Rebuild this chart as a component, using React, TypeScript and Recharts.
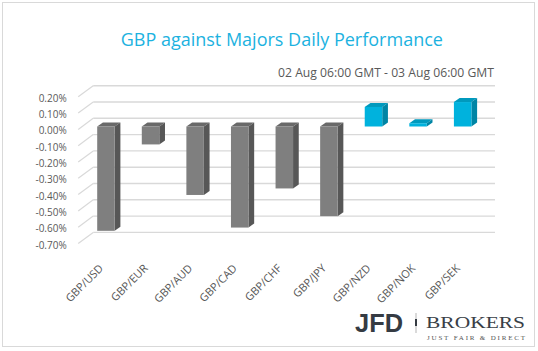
import React from 'react';
import { BarChart, Bar, XAxis, YAxis, CartesianGrid } from 'recharts';

const categories = ['GBP/USD', 'GBP/EUR', 'GBP/AUD', 'GBP/CAD', 'GBP/CHF', 'GBP/JPY', 'GBP/NZD', 'GBP/NOK', 'GBP/SEK'];
const changes = [-0.64, -0.11, -0.42, -0.62, -0.38, -0.55, 0.12, 0.02, 0.15];
const yTicks = [0.2, 0.1, 0, -0.1, -0.2, -0.3, -0.4, -0.5, -0.6, -0.7];
const titleText = 'GBP against Majors Daily Performance';
const subtitleText = '02 Aug 06:00 GMT - 03 Aug 06:00 GMT';

const data = categories.map((name, i) => ({ name, value: changes[i] }));

const FONT = '"Open Sans", sans-serif';
const DEPTH_X = 5.7;
const DEPTH_Y = 4;
const LIFT = 4.4;

const fmt = (v: number) => {
  const r = Math.round(v * 100) / 100;
  return (Math.abs(r) < 1e-9 ? 0 : r).toFixed(2) + '%';
};

const Bar3D = (props: any) => {
  const { x, y, width, height, value } = props;
  const top = Math.min(y, y + height) - LIFT;
  const h = Math.abs(height);
  const pos = value >= 0;
  const front = pos ? '#00b2dd' : '#7f7f7f';
  const side = pos ? '#0085a5' : '#575757';
  const topC = pos ? '#0099bd' : '#696969';
  return (
    <g>
      <polygon
        points={`${x},${top} ${x + DEPTH_X},${top - DEPTH_Y} ${x + width + DEPTH_X},${top - DEPTH_Y} ${x + width},${top}`}
        fill={topC}
      />
      <polygon
        points={`${x + width},${top} ${x + width + DEPTH_X},${top - DEPTH_Y} ${x + width + DEPTH_X},${top - DEPTH_Y + h} ${x + width},${top + h}`}
        fill={side}
      />
      <rect x={x} y={top} width={width} height={h} fill={front} />
    </g>
  );
};

const GridLine = (props: any) => {
  const { x1, x2, y1 } = props;
  const by = y1 - 12.6;
  return (
    <g key={props.key}>
      <line x1={x1 - 5} y1={y1 - 1.5} x2={x1 + 10} y2={by} stroke="#d9d9d9" strokeWidth={1.2} />
      <line x1={x1 + 10} y1={by} x2={x2 + 10.5} y2={by} stroke="#d9d9d9" strokeWidth={1.4} />
    </g>
  );
};

const YTick = (props: any) => {
  const { x, y, payload } = props;
  return (
    <text x={x - 16.5} y={y} dy={3.5} textAnchor="end" fontSize={10} fontFamily={FONT} fill="#595959">
      {fmt(payload.value)}
    </text>
  );
};

const XTick = (props: any) => {
  const { x, y, payload } = props;
  const tx = x - 1.5;
  const ty = y + 24;
  return (
    <text x={tx} y={ty} textAnchor="end" fontSize={11} fontFamily={FONT} fill="#595959" transform={`rotate(-45 ${tx} ${ty})`}>
      {payload.value}
    </text>
  );
};

export default function App() {
  return (
    <div style={{ position: 'absolute', left: 0, top: 0, width: 538, height: 351, background: '#fff' }}>
      <BarChart
        width={538}
        height={351}
        data={data}
        margin={{ top: 98.3, right: 53.5, bottom: 76, left: 23.2 }}
        barSize={17.5}
      >
        <CartesianGrid vertical={false} horizontal={(p: any) => <GridLine {...p} />} />
        <XAxis
          dataKey="name"
          interval={0}
          tickLine={false}
          axisLine={false}
          tickSize={0}
          tickMargin={0}
          height={30}
          tick={<XTick />}
        />
        <YAxis
          type="number"
          domain={[-0.7, 0.2]}
          ticks={yTicks}
          interval={0}
          tickLine={false}
          axisLine={false}
          tickSize={0}
          tickMargin={0}
          width={60}
          tick={<YTick />}
        />
        <Bar dataKey="value" isAnimationActive={false} shape={(p: any) => <Bar3D {...p} />} />
      </BarChart>
      <svg width={538} height={351} style={{ position: 'absolute', left: 0, top: 0, pointerEvents: 'none' }}>
        <rect x={2.5} y={2.5} width={532} height={344} fill="none" stroke="#d9d9d9" strokeWidth={1} />
        <text x={281.8} y={46} textAnchor="middle" fontSize={18} fontFamily={FONT} fill="#1cb2df">
          {titleText}
        </text>
        <text x={494} y={77} textAnchor="end" fontSize={12.2} fontFamily={FONT} fill="#595959">
          {subtitleText}
        </text>
        <text x={355} y={332} fontSize={26} fontWeight="bold" fontFamily='"Liberation Sans", Arial, sans-serif' fill="#353b43" textLength={48} lengthAdjust="spacingAndGlyphs">
          JFD
        </text>
        <line x1={416} y1={313} x2={416} y2={333} stroke="#b5b5b5" strokeWidth={1} />
        <rect x={415} y={319} width={2} height={7} fill="#353b43" />
        <text x={426} y={327.5} fontSize={17.5} fontFamily='"Liberation Serif", serif' fill="#3a3f47" textLength={99} lengthAdjust="spacingAndGlyphs">
          BROKERS
        </text>
        <text x={427} y={340} fontSize={7} fontFamily='"Liberation Serif", serif' fill="#555" textLength={98} lengthAdjust="spacing">
          JUST FAIR &amp; DIRECT
        </text>
      </svg>
    </div>
  );
}
